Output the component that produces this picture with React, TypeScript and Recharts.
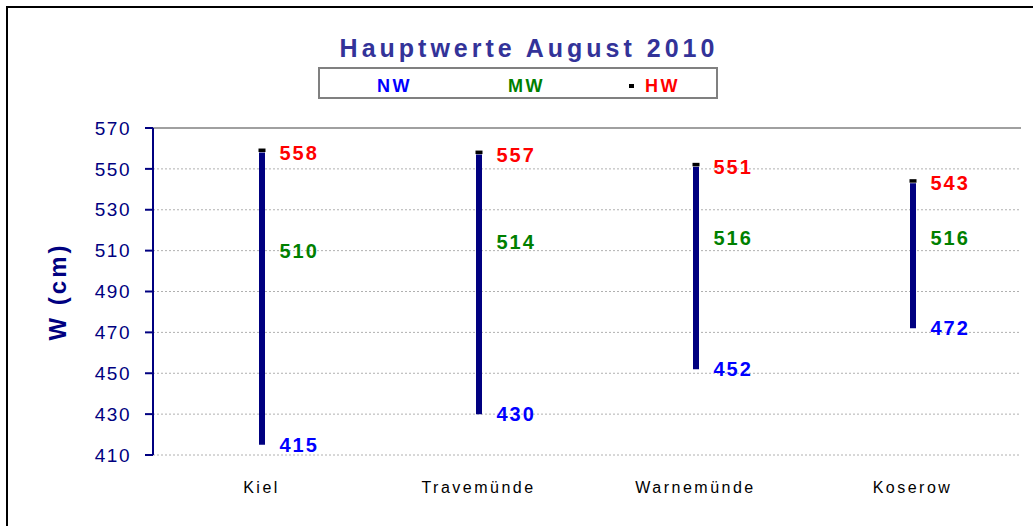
import React from "react"
import {
  ComposedChart,
  Bar,
  Line,
  XAxis,
  YAxis,
  CartesianGrid,
  ReferenceLine,
} from "recharts"

const stations = ["Kiel", "Travemünde", "Warnemünde", "Koserow"]
const nw = [415, 430, 452, 472]
const mw = [510, 514, 516, 516]
const hw = [558, 557, 551, 543]
const yTicks = [410, 430, 450, 470, 490, 510, 530, 550, 570]

const data = stations.map((name, i) => ({
  name,
  pos: i + 0.5,
  range: [nw[i], hw[i]],
  nw: nw[i],
  mw: mw[i],
  hw: hw[i],
}))

const FONT = "'Liberation Sans', Arial, sans-serif"
const NAVY = "#000080"

const valueLabel = (key: "nw" | "mw" | "hw", color: string) => (p: any) => {
  if (p.cx == null || p.cy == null) return <g key={`${key}-${p.index}`} />
  return (
    <g key={`${key}-${p.index}`}>
      {key === "hw" && (
        <rect x={p.cx - 3} y={p.cy - 4} width={7} height={3.5} fill="#000" />
      )}
      <text
        x={p.cx + 18}
        y={p.cy}
        dominantBaseline="central"
        fill={color}
        fontFamily={FONT}
        fontWeight="bold"
        fontSize={20}
        letterSpacing={2}
      >
        {p.payload[key]}
      </text>
    </g>
  )
}

const legendText = { position: "absolute" as const, top: 76, fontSize: 18, fontWeight: "bold" as const, letterSpacing: 2.5, lineHeight: "20px" }

export default function App() {
  return (
    <div
      style={{
        position: "fixed",
        left: 0,
        top: 0,
        width: 1033,
        height: 526,
        overflow: "hidden",
        background: "#fff",
        fontFamily: FONT,
      }}
    >
      <div
        style={{
          position: "absolute",
          left: 6,
          top: 6,
          width: 1060,
          height: 560,
          border: "2px solid #000",
        }}
      />
      <div
        style={{
          position: "absolute",
          left: 0,
          top: 33,
          width: 1058,
          textAlign: "center",
          color: "#333399",
          fontWeight: "bold",
          fontSize: 25,
          letterSpacing: 4,
          lineHeight: "30px",
        }}
      >
        Hauptwerte August 2010
      </div>
      <div
        style={{
          position: "absolute",
          left: 318,
          top: 67,
          width: 396,
          height: 28,
          border: "2px solid #808080",
          boxSizing: "content-box",
        }}
      />
      <div style={{ ...legendText, left: 377, color: "#0000ff" }}>NW</div>
      <div style={{ ...legendText, left: 508, color: "#008000" }}>MW</div>
      <div style={{ position: "absolute", left: 629, top: 84, width: 5, height: 4, background: "#000" }} />
      <div style={{ ...legendText, left: 645, color: "#ff0000" }}>HW</div>

      <div style={{ position: "absolute", left: 0, top: 0 }}>
        <ComposedChart
          width={1033}
          height={526}
          data={data}
          margin={{ top: 128, right: 12, bottom: 31, left: 0 }}
        >
          <CartesianGrid
            horizontal
            vertical={false}
            stroke="#b0b0b0"
            strokeDasharray="2 2"
          />
          <XAxis
            dataKey="pos"
            type="number"
            domain={[0, 4]}
            ticks={[0, 1, 2, 3, 4]}
            tickFormatter={() => ""}
            height={0}
            tickSize={7}
            axisLine={{ stroke: "#000", strokeWidth: 2 }}
            tickLine={{ stroke: "#000", strokeWidth: 2 }}
          />
          <XAxis
            xAxisId="lab"
            dataKey="pos"
            type="number"
            domain={[0, 4]}
            ticks={[0.5, 1.5, 2.5, 3.5]}
            tickFormatter={(v: number) => stations[Math.floor(v)]}
            height={40}
            axisLine={false}
            tickLine={false}
            tickSize={0}
            tickMargin={27}
            tick={{ fill: "#000", fontSize: 16, letterSpacing: 2.5, fontFamily: FONT }}
          />
          <YAxis
            type="number"
            domain={[410, 570]}
            ticks={yTicks}
            width={153}
            tickSize={8}
            tickMargin={14}
            axisLine={{ stroke: NAVY, strokeWidth: 2 }}
            tickLine={{ stroke: NAVY, strokeWidth: 2 }}
            tick={{ fill: NAVY, fontSize: 19, letterSpacing: 1.5, fontFamily: FONT }}
            label={{
              value: "W (cm)",
              angle: -90,
              position: "center",
              dx: -19,
              fill: NAVY,
              fontSize: 24,
              fontWeight: "bold",
              letterSpacing: 3,
              fontFamily: FONT,
            }}
          />
          <YAxis
            yAxisId="r"
            orientation="right"
            width={0}
            tick={false}
            tickLine={false}
            axisLine={{ stroke: "#a0a0a0", strokeWidth: 2 }}
          />
          <ReferenceLine y={570} stroke="#a0a0a0" strokeWidth={2} />
          <Bar
            dataKey="range"
            barSize={6}
            fill={NAVY}
            isAnimationActive={false}
          />
          <Line
            dataKey="nw"
            stroke="none"
            dot={valueLabel("nw", "#0000ff")}
            activeDot={false}
            isAnimationActive={false}
          />
          <Line
            dataKey="mw"
            stroke="none"
            dot={valueLabel("mw", "#008000")}
            activeDot={false}
            isAnimationActive={false}
          />
          <Line
            dataKey="hw"
            stroke="none"
            dot={valueLabel("hw", "#ff0000")}
            activeDot={false}
            isAnimationActive={false}
          />
        </ComposedChart>
      </div>
    </div>
  )
}
